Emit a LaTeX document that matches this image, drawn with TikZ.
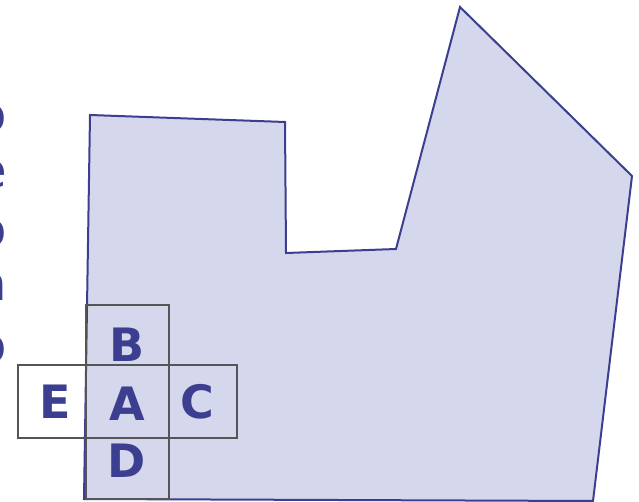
\documentclass[tikz,border=0pt]{standalone}
\usepackage{fontspec}
\setmainfont{DejaVu Sans}
\usetikzlibrary{positioning}

\definecolor{polyblue}{RGB}{60,63,143}
\definecolor{polyfill}{RGB}{213,215,236}
\definecolor{cellgray}{RGB}{85,85,85}

\begin{document}
\begin{tikzpicture}[x=1pt, y=-1pt]
    \tikzstyle{region} = [draw=polyblue, fill=polyfill, line width=2pt, line join=miter]
    \tikzstyle{cell} = [rectangle, draw=cellgray, line width=2pt, outer sep=0pt, inner sep=0pt, minimum height=73pt]
    \tikzstyle{letter} = [text=polyblue, font=\bfseries\fontsize{46}{46}\selectfont, inner sep=0pt]
    \tikzstyle{edgetext} = [text=polyblue, font=\fontsize{48}{48}\selectfont, inner sep=0pt, anchor=east]

    \useasboundingbox (0,0) rectangle (639,502);

    % letters cut off at the left edge
    \node (t1) [edgetext] at (7,118) {o};
    \node (t2) [edgetext] at (7,174) {e};
    \node (t3) [edgetext] at (7,233) {o};
    \node (t4) [edgetext] at (7,287) {n};
    \node (t5) [edgetext] at (7,349) {o};

    % the region
    \draw [region] (90,115) -- (285,122) -- (286,253) -- (396,249) -- (460,7)
        -- (632,176) -- (593,501) -- (84,499) -- cycle;

    % the cells
    \node (A) [cell, minimum width=83pt, label={[letter, yshift=-2.5pt]center:A}] at (127,401.5) {};
    \node (B) [cell, minimum width=83pt, minimum height=60pt, above=0pt of A, label={[letter, yshift=-10pt]center:B}] {};
    \node (D) [cell, minimum width=83pt, minimum height=60.5pt, below=0pt of A, label={[letter, yshift=8pt]center:D}] {};
    \node (E) [cell, minimum width=68pt, left=0pt of A, label={[letter, xshift=3.5pt]center:E}] {};
    \node (C) [cell, minimum width=68pt, right=0pt of A, label={[letter, xshift=-5pt]center:C}] {};
\end{tikzpicture}
\end{document}
